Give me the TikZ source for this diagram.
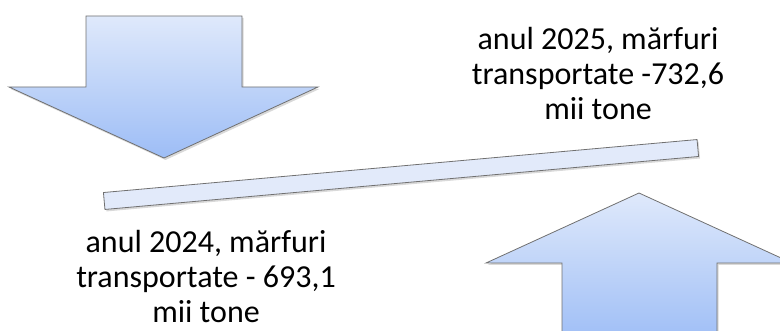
\documentclass[tikz,border=0pt]{standalone}
\usepackage{fontspec}
\setmainfont{Carlito}
\usetikzlibrary{shadows, positioning}
\definecolor{arrowtop}{HTML}{DFE9FB}
\definecolor{arrowbot}{HTML}{9DBDF6}
\definecolor{plankfill}{HTML}{E2EAFA}
\definecolor{rim}{HTML}{707070}
\tikzset{
  x=1pt, y=-1pt,
  softshadow/.style={drop shadow={opacity=0.3, shadow xshift=1.5pt, shadow yshift=-2pt}},
  blockarrow/.style={draw=rim, line width=0.8pt, line join=miter, top color=arrowtop, bottom color=arrowbot, softshadow},
  plank/.style={draw=rim, line width=0.8pt, fill=plankfill, softshadow, inner sep=0pt},
  caption/.style={font=\fontsize{32}{35}\selectfont, align=center, inner sep=0pt},
}

\begin{document}
\begin{tikzpicture}
      \useasboundingbox (0,0) rectangle (780,331);

      % block arrows
      \path[blockarrow] (86,16) -- (242,16) -- (242,87) -- (318,87)
            -- (164,158) -- (9,87) -- (86,87) -- cycle;
      \path[blockarrow] (639,193) -- (792,263) -- (717,263) -- (717,345)
            -- (562,345) -- (562,263) -- (486,263) -- cycle;

      % the plank
      \node[plank, rotate=5.1, minimum width=596pt, minimum height=17pt] (bar) at (401,174.5) {};

      \node[caption] (t25) at (598,74)  {anul 2025, mărfuri\\transportate -732,6\\mii tone};
      \node[caption] (t24) at (206,277) {anul 2024, mărfuri\\transportate - 693,1\\mii tone};
\end{tikzpicture}
\end{document}
